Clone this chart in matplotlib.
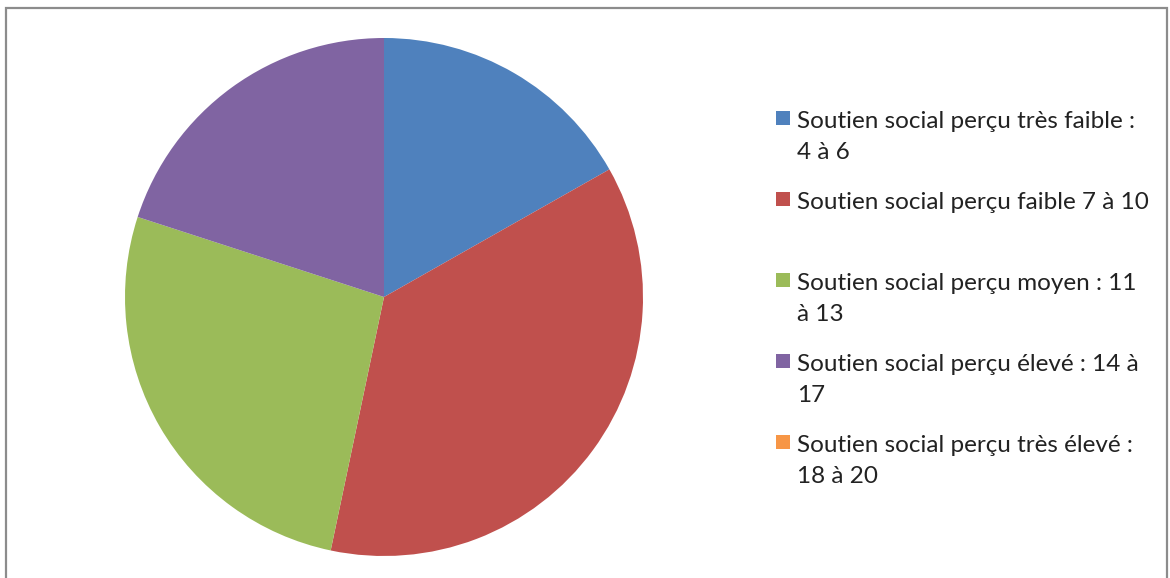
import matplotlib.pyplot as plt
from matplotlib.patches import Rectangle

labels = ["Soutien social perçu très faible :\n4 à 6",
          "Soutien social perçu faible 7 à 10",
          "Soutien social perçu moyen : 11\nà 13",
          "Soutien social perçu élevé : 14 à\n17",
          "Soutien social perçu très élevé :\n18 à 20"]
values = [16.8, 36.5, 26.7, 20.0, 0.0]
colors = ["#4F81BD", "#C0504D", "#9BBB59", "#8064A2", "#F79646"]

W, H = 1170, 578
fig = plt.figure(figsize=(W / 100, H / 100), dpi=100)

# frame
fig.patches.append(Rectangle((6 / W, -0.1), (1167 - 6) / W, 1.1 - 8 / H,
                             transform=fig.transFigure, fill=False,
                             edgecolor="#8c8c8c", linewidth=1.6))

cx, cy, r = 384, 297, 259
ax = fig.add_axes([(cx - r) / W, (H - cy - r) / H, 2 * r / W, 2 * r / H])
ax.pie(values, colors=colors, startangle=90, counterclock=False,
       radius=1, wedgeprops=dict(linewidth=0))
ax.set_xlim(-1, 1)
ax.set_ylim(-1, 1)
ax.axis("off")

# legend
for i, (lab, col) in enumerate(zip(labels, colors)):
    yc = 118 + i * 81
    fig.patches.append(Rectangle((776 / W, 1 - (yc + 7) / H), 14 / W, 14 / H,
                                 transform=fig.transFigure, facecolor=col,
                                 edgecolor="none"))
    fig.text(797 / W, 1 - (yc - 7) / H, lab, ha="left", va="top",
             fontsize=17.5, family="Lato", color="#222222", linespacing=1.6)

fig.savefig("out.png", dpi=100)
